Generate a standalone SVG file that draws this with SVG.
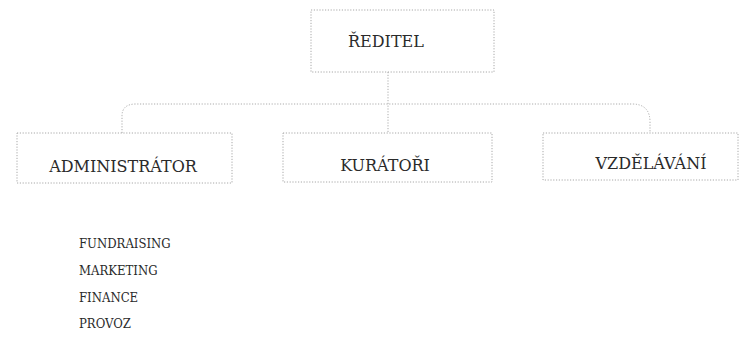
<svg xmlns="http://www.w3.org/2000/svg" width="740" height="353" viewBox="0 0 740 353">
<style>
.box{fill:none;stroke:#a8a8a8;stroke-width:1;stroke-dasharray:1.2 1.6}
.con{fill:none;stroke:#acacac;stroke-width:1;stroke-dasharray:1.2 1.6}
.t{font-family:"DejaVu Serif","Liberation Serif",serif;font-size:16px;fill:#2a2a2a}
.s{font-size:13px;font-stretch:condensed}
.c{text-anchor:middle}
</style>
<rect width="740" height="353" fill="#ffffff"/>
<g id="connectors">
<path class="con" d="M388 72 V133"/>
<path class="con" d="M122 133 V116 Q122 104 136 104 H632 Q650 104 650 122 V133"/>
</g>
<g id="reditel">
<rect class="box" x="311" y="10" width="183" height="62"/>
<text class="t c" x="386" y="47">ŘEDITEL</text>
</g>
<g id="administrator">
<rect class="box" x="17" y="133" width="215" height="50"/>
<text class="t c" x="123" y="172">ADMINISTRÁTOR</text>
</g>
<g id="kuratori">
<rect class="box" x="283" y="133" width="209" height="49"/>
<text class="t c" x="385" y="171">KURÁTOŘI</text>
</g>
<g id="vzdelavani">
<rect class="box" x="543" y="133" width="195" height="47"/>
<text class="t c" x="651" y="169">VZDĚLÁVÁNÍ</text>
</g>
<g id="list">
<text class="t s" x="79" y="248">FUNDRAISING</text>
<text class="t s" x="79" y="275">MARKETING</text>
<text class="t s" x="79" y="302">FINANCE</text>
<text class="t s" x="79" y="328">PROVOZ</text>
</g>
</svg>
